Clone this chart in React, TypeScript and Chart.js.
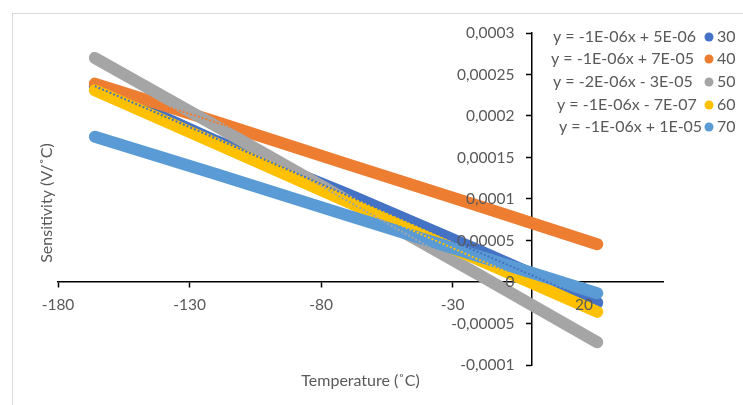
import React, { useEffect, useRef } from "react";
import { Chart, registerables } from "chart.js";

Chart.register(...registerables);

// ---- data ----
const temperatures = [-166, -120, -70, -20, 25];
const series30 = [0.000236, 0.00017, 0.000106, 0.000038, -0.000025];
const series40 = [0.000239, 0.000193, 0.000142, 0.0000915, 0.0000455];
const series50 = [0.00027, 0.000188, 0.0000982, 0.0000087, -0.0000725];
const series60 = [0.000231, 0.000167, 0.0000968, 0.0000269, -0.000036];
const series70 = [0.000175, 0.00013, 0.0000803, 0.0000309, -0.0000135];

const trendX = [-166, 25];
const trend30 = [0.000236, -0.000026];
const trend40 = [0.000239, 0.0000455];
const trend50 = [0.00027, -0.0000725];
const trend60 = [0.000231, -0.000036];
const trend70 = [0.000175, -0.0000135];

const seriesNames = ["30", "40", "50", "60", "70"];
const seriesColors = ["#4472C4", "#ED7D31", "#A5A5A5", "#FFC000", "#5B9BD5"];
const equations = [
  "y = -1E-06x + 5E-06",
  "y = -1E-06x + 7E-05",
  "y = -2E-06x - 3E-05",
  "y = -1E-06x - 7E-07",
  "y = -1E-06x + 1E-05",
];

const xTicks = [-180, -130, -80, -30, 20];
const xTickLabels = ["-180", "-130", "-80", "-30", "20"];
const yTicks = [-0.0001, -0.00005, 0, 0.00005, 0.0001, 0.00015, 0.0002, 0.00025, 0.0003];
const yTickLabels = ["-0,0001", "-0,00005", "0", "0,00005", "0,0001", "0,00015", "0,0002", "0,00025", "0,0003"];

const xTitle = "Temperature (˚C)";
const yTitle = "Sensitivity (V/˚C)";

const TEXT = "#595959";
const FONT = "Lato";

const allSeries = [series30, series40, series50, series60, series70];
const allTrends = [trend30, trend40, trend50, trend60, trend70];

const decorPlugin = {
  id: "decor",
  beforeDraw(chart: any) {
    const ctx = chart.ctx;
    ctx.save();
    ctx.fillStyle = "#ffffff";
    ctx.fillRect(0, 0, chart.width, chart.height);
    ctx.strokeStyle = "#d9d9d9";
    ctx.lineWidth = 1;
    ctx.strokeRect(12.5, 13.5, 900, 600);
    ctx.restore();
  },
  afterDraw(chart: any) {
    const ctx = chart.ctx;
    const area = chart.chartArea;
    const xs = chart.scales.x;
    const ys = chart.scales.y;
    ctx.save();
    ctx.fillStyle = TEXT;
    // tick labels drawn on top of the data, next to axes crossing at 0
    const axisX = xs.getPixelForValue(0);
    const axisY = ys.getPixelForValue(0);
    ctx.font = `15.5px ${FONT}`;
    ctx.textAlign = "right";
    ctx.textBaseline = "middle";
    yTicks.forEach((v, i) => {
      ctx.fillText(yTickLabels[i], axisX - 17, ys.getPixelForValue(v));
    });
    ctx.textAlign = "center";
    xTicks.forEach((v, i) => {
      ctx.fillText(xTickLabels[i], xs.getPixelForValue(v), axisY + 23);
    });
    // axis titles
    ctx.font = `16px ${FONT}`;
    ctx.textAlign = "center";
    ctx.fillText(xTitle, (area.left + area.right) / 2, 381);
    ctx.save();
    ctx.translate(47, (area.top + area.bottom) / 2 + 4);
    ctx.rotate(-Math.PI / 2);
    ctx.fillText(yTitle, 0, 0);
    ctx.restore();
    // legend with trendline equations
    const eqLeft = [553, 551, 553, 557, 559];
    const rowY = [37, 59, 82, 105, 127];
    ctx.font = `16px ${FONT}`;
    for (let i = 0; i < seriesNames.length; i++) {
      ctx.fillStyle = TEXT;
      ctx.textAlign = "left";
      ctx.fillText(equations[i], eqLeft[i], rowY[i]);
      ctx.fillStyle = seriesColors[i];
      ctx.beginPath();
      ctx.arc(709, rowY[i], 4.5, 0, Math.PI * 2);
      ctx.fill();
      ctx.fillStyle = TEXT;
      ctx.fillText(seriesNames[i], 717, rowY[i]);
    }
    ctx.restore();
  },
};

export default function App() {
  const ref = useRef<HTMLCanvasElement>(null);
  useEffect(() => {
    document.body.style.margin = "0";
    const datasets: any[] = [];
    allTrends.forEach((t, i) => {
      datasets.push({
        label: "trend " + seriesNames[i],
        data: trendX.map((x, k) => ({ x, y: t[k] })),
        borderColor: seriesColors[i],
        borderWidth: 2,
        borderDash: [2, 2],
        pointRadius: 0,
        fill: false,
        order: 0,
      });
    });
    allSeries.forEach((s, i) => {
      datasets.push({
        label: seriesNames[i],
        data: temperatures.map((x, k) => ({ x, y: s[k] })),
        borderColor: seriesColors[i],
        backgroundColor: seriesColors[i],
        borderWidth: 12,
        borderCapStyle: "round",
        borderJoinStyle: "round",
        pointRadius: 0,
        fill: false,
        order: 10 - i,
      });
    });
    const chart = new Chart(ref.current!, {
      type: "line",
      data: { datasets },
      options: {
        animation: false,
        responsive: false,
        devicePixelRatio: 1,
        layout: { padding: { left: 58, right: 80, top: 33, bottom: 40 } },
        plugins: { legend: { display: false }, tooltip: { enabled: false } },
        scales: {
          x: {
            type: "linear",
            position: { y: 0 } as any,
            min: -180,
            max: 50,
            afterBuildTicks: (scale: any) => {
              scale.ticks = xTicks.map((v) => ({ value: v }));
            },
            grid: { drawOnChartArea: false, drawTicks: true, tickLength: 5, tickColor: "#000", tickWidth: 1.5 },
            border: { color: "#000", width: 1.5 },
            ticks: { display: false },
          },
          y: {
            type: "linear",
            position: { x: 0 } as any,
            min: -0.0001,
            max: 0.0003,
            afterBuildTicks: (scale: any) => {
              scale.ticks = yTicks.map((v) => ({ value: v }));
            },
            grid: { drawOnChartArea: false, drawTicks: true, tickLength: 5, tickColor: "#000", tickWidth: 1.5 },
            border: { color: "#000", width: 1.5 },
            ticks: { display: false },
          },
        },
      },
      plugins: [decorPlugin],
    });
    return () => chart.destroy();
  }, []);
  return (
    <div style={{ width: 743, height: 405 }}>
      <canvas ref={ref} width={743} height={405} style={{ display: "block" }} />
    </div>
  );
}
